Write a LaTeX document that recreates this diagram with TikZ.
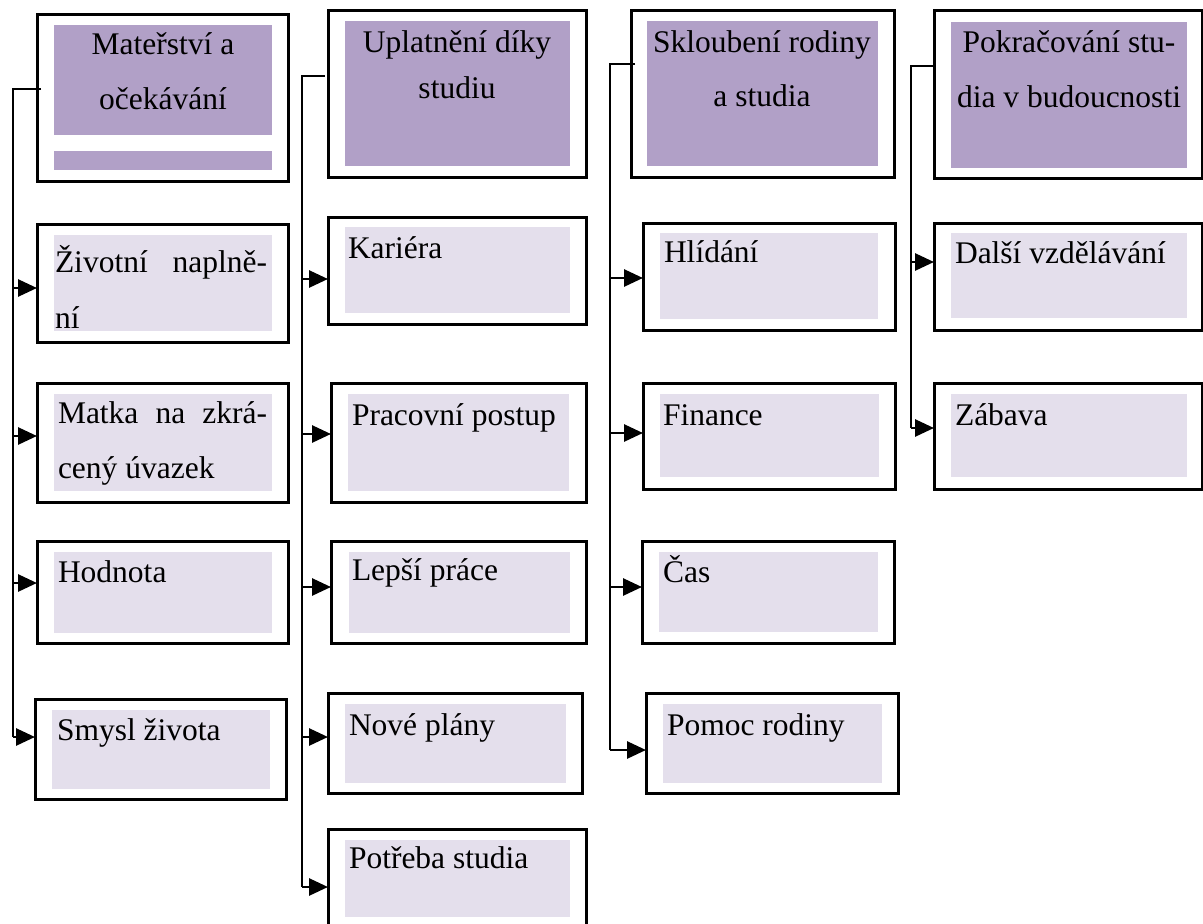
\documentclass[tikz,border=0pt]{standalone}
\usepackage{fontspec}
\setmainfont{Liberation Serif}
\usetikzlibrary{arrows.meta}
\definecolor{hdrfill}{HTML}{B1A0C7}
\definecolor{itemfill}{HTML}{E4DFEC}
\tikzset{
  obox/.style={draw=black, line width=3pt, fill=none, inner sep=0pt, outer sep=0pt},
  txt/.style={font=\fontsize{31.5}{38}\selectfont, inner sep=0pt, outer sep=0pt, text=black},
  spine/.style={draw=black, line width=2.8pt},
  arr/.style={draw=black, line width=2.8pt, -{Triangle[length=19pt,width=17pt]}}
}
\newcommand{\obx}[5]{\node[obox, minimum width={(#4-#2)*1pt}, minimum height={(#5-#3)*1pt}] (#1) at ({(#2+#4)/2},{(#3+#5)/2}) {};}
\begin{document}
\begin{tikzpicture}[x=1pt,y=-1pt]
\useasboundingbox (0,0) rectangle (1203,924);
\clip (0,0) rectangle (1203,924);
% ---------- column 1 ----------
\obx{A0}{37}{14}{288}{181}
\fill[hdrfill] (54,25) rectangle (272,135);
\fill[hdrfill] (54,151) rectangle (272,170);
\node[txt, anchor=base] (tA0a) at (163,54) {Mateřství a};
\node[txt, anchor=base] (tA0b) at (163,109) {očekávání};

\obx{A1}{37}{224}{288}{342}
\fill[itemfill] (54,235) rectangle (272,331);
\node[txt, anchor=base west] (tA1a) at (55,272) {\hbox to 212pt{Životní\hfill naplně-}};
\node[txt, anchor=base west] (tA1b) at (55,328) {ní};

\obx{A2}{37}{383}{288}{502}
\fill[itemfill] (54,394) rectangle (272,491);
\node[txt, anchor=base west] (tA2a) at (58,423) {\hbox to 209pt{Matka\hfill na\hfill zkrá-}};
\node[txt, anchor=base west] (tA2b) at (58,478) {cený úvazek};

\obx{A3}{37}{541}{288}{643}
\fill[itemfill] (54,552) rectangle (272,633);
\node[txt, anchor=base west] (tA3) at (58,582) {Hodnota};

\obx{A4}{35}{699}{286}{799}
\fill[itemfill] (52,710) rectangle (270,789);
\node[txt, anchor=base west] (tA4) at (57,740) {Smysl života};

\coordinate (vA) at (13,89);
\coordinate (A0out) at (41,89);
\coordinate (A1in) at (37,288);
\coordinate (A2in) at (37,436);
\coordinate (A3in) at (37,583);
\coordinate (A4in) at (35,737);
\draw[spine] (A0out) -- (vA) -- (vA |- A4in);
\foreach \t in {A1in,A2in,A3in,A4in} \draw[arr] (vA |- \t) -- (\t);

% ---------- column 2 ----------
\obx{B0}{328}{10}{586}{177}
\fill[hdrfill] (345,21) rectangle (570,166);
\node[txt, anchor=base] (tB0a) at (457,52) {Uplatnění díky};
\node[txt, anchor=base] (tB0b) at (457,98) {studiu};

\obx{B1}{328}{217}{586}{324}
\fill[itemfill] (345,227) rectangle (570,313);
\node[txt, anchor=base west] (tB1) at (348,258) {Kariéra};

\obx{B2}{331}{383}{586}{502}
\fill[itemfill] (348,394) rectangle (569,491);
\node[txt, anchor=base west] (tB2) at (352,425) {Pracovní postup};

\obx{B3}{331}{541}{586}{643}
\fill[itemfill] (349,552) rectangle (570,633);
\node[txt, anchor=base west] (tB3) at (352,580) {Lepší práce};

\obx{B4}{328}{693}{582}{793}
\fill[itemfill] (345,704) rectangle (566,783);
\node[txt, anchor=base west] (tB4) at (349,735) {Nové plány};

\obx{B5}{328}{829}{586}{930}
\fill[itemfill] (345,840) rectangle (570,917);
\node[txt, anchor=base west] (tB5) at (349,868) {Potřeba studia};

\coordinate (vB) at (302,76);
\coordinate (B0out) at (325,76);
\coordinate (B1in) at (328,279);
\coordinate (B2in) at (331,434);
\coordinate (B3in) at (331,587);
\coordinate (B4in) at (328,737);
\coordinate (B5in) at (328,887);
\draw[spine] (B0out) -- (vB) -- (vB |- B5in);
\foreach \t in {B1in,B2in,B3in,B4in,B5in} \draw[arr] (vB |- \t) -- (\t);

% ---------- column 3 ----------
\obx{C0}{631}{10}{894}{177}
\fill[hdrfill] (647,21) rectangle (878,166);
\node[txt, anchor=base] (tC0a) at (762,52) {Skloubení rodiny};
\node[txt, anchor=base] (tC0b) at (762,106) {a studia};

\obx{C1}{643}{223}{895}{330}
\fill[itemfill] (660,233) rectangle (878,319);
\node[txt, anchor=base west] (tC1) at (664,262) {Hlídání};

\obx{C2}{643}{383}{895}{489}
\fill[itemfill] (660,394) rectangle (879,477);
\node[txt, anchor=base west] (tC2) at (663,425) {Finance};

\obx{C3}{642}{541}{894}{643}
\fill[itemfill] (659,552) rectangle (878,632);
\node[txt, anchor=base west] (tC3) at (663,582) {Čas};

\obx{C4}{646}{693}{898}{793}
\fill[itemfill] (663,704) rectangle (882,783);
\node[txt, anchor=base west] (tC4) at (667,735) {Pomoc rodiny};

\coordinate (vC) at (610,64);
\coordinate (C0out) at (635,64);
\coordinate (C1in) at (643,278);
\coordinate (C2in) at (643,433);
\coordinate (C3in) at (642,587);
\coordinate (C4in) at (646,750);
\draw[spine] (C0out) -- (vC) -- (vC |- C4in);
\foreach \t in {C1in,C2in,C3in,C4in} \draw[arr] (vC |- \t) -- (\t);

% ---------- column 4 ----------
\obx{D0}{934}{10}{1202}{178}
\fill[hdrfill] (951,22) rectangle (1187,168);
\node[txt, anchor=base] (tD0a) at (1069,52) {Pokračování stu-};
\node[txt, anchor=base] (tD0b) at (1069,107) {dia v budoucnosti};

\obx{D1}{934}{223}{1202}{330}
\fill[itemfill] (951,233) rectangle (1187,318);
\node[txt, anchor=base west] (tD1) at (955,263) {Další vzdělávání};

\obx{D2}{934}{383}{1202}{489}
\fill[itemfill] (951,394) rectangle (1187,477);
\node[txt, anchor=base west] (tD2) at (955,425) {Zábava};

\coordinate (vD) at (911,66);
\coordinate (D0out) at (935,66);
\coordinate (D1in) at (934,262);
\coordinate (D2in) at (934,428);
\draw[spine] (D0out) -- (vD) -- (vD |- D2in);
\foreach \t in {D1in,D2in} \draw[arr] (vD |- \t) -- (\t);
\end{tikzpicture}
\end{document}
